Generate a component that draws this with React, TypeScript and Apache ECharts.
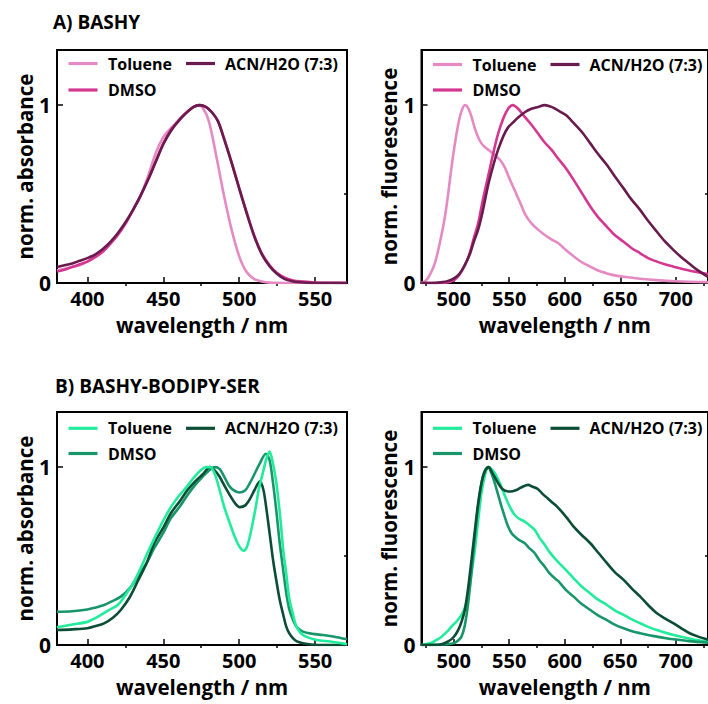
import React, { useEffect, useRef } from "react";
import * as echarts from "echarts";

// ---------- colours ----------
const PINK_TOL = "#E58AC2";
const PINK_DMSO = "#D4378F";
const PINK_ACN = "#6A1B4D";
const GREEN_TOL = "#22EB9C";
const GREEN_DMSO = "#18966A";
const GREEN_ACN = "#0B4D35";

const SOLVENTS = ["Toluene", "DMSO", "ACN/H2O (7:3)"];

// ---------- A) BASHY absorbance ----------
const aAbsTolWl = [380,385,390,395,400,405,410,415,420,425,430,435,440,445,450,455,460,465,470,473,476,480,485,490,495,500,505,510,515,520,530,571];
const aAbsTol = [0.07,0.08,0.09,0.10,0.12,0.145,0.175,0.22,0.27,0.33,0.41,0.49,0.60,0.73,0.82,0.87,0.91,0.955,0.99,1.0,0.985,0.91,0.71,0.49,0.30,0.15,0.06,0.022,0.008,0.002,0,0];
const aAbsWl = [380,385,390,395,400,405,410,415,420,425,430,435,440,445,450,455,460,465,470,474,478,482,486,490,495,500,505,510,515,520,525,530,535,540,550,560,571];
const aAbsAcn = [0.09,0.10,0.11,0.125,0.14,0.16,0.19,0.23,0.28,0.34,0.41,0.49,0.58,0.68,0.78,0.855,0.91,0.955,0.99,1.0,0.99,0.96,0.91,0.81,0.675,0.53,0.39,0.26,0.16,0.095,0.05,0.022,0.01,0.004,0,0,0];
const aAbsDmso = [0.065,0.075,0.09,0.105,0.12,0.145,0.175,0.22,0.27,0.335,0.41,0.49,0.585,0.685,0.785,0.86,0.915,0.958,0.99,1.0,0.99,0.96,0.91,0.815,0.68,0.535,0.395,0.265,0.165,0.1,0.056,0.03,0.016,0.009,0.003,0.001,0];

// ---------- A) BASHY fluorescence ----------
const aFlTolWl = [471,474,478,483,488,492,495,498,501,504,507,510,513,516,519,522,525,528,532,537,542,546,550,555,560,564,570,576,582,588,594,601,608,615,623,630,638,645,653,668,683,700,729];
const aFlTol = [0,0.008,0.04,0.11,0.24,0.37,0.5,0.65,0.78,0.89,0.965,1.0,0.985,0.935,0.87,0.82,0.785,0.765,0.745,0.72,0.69,0.65,0.59,0.52,0.45,0.39,0.335,0.30,0.27,0.245,0.225,0.185,0.15,0.118,0.092,0.07,0.054,0.043,0.035,0.024,0.016,0.01,0.005];
const aFlDmsoWl = [471,490,495,500,505,510,514,518,522,526,531,536,540,545,549,553,558,564,570,576,582,588,594,601,608,616,623,630,638,645,653,660,668,675,683,690,698,712,729];
const aFlDmso = [0,0,0.004,0.015,0.045,0.1,0.16,0.25,0.335,0.46,0.60,0.74,0.84,0.93,0.98,1.0,0.98,0.934,0.89,0.84,0.79,0.75,0.70,0.645,0.58,0.50,0.43,0.37,0.316,0.27,0.232,0.197,0.167,0.14,0.12,0.105,0.092,0.07,0.05];
const aFlAcnWl = [471,480,490,495,500,505,510,515,518,522,526,531,536,540,545,549,553,558,564,570,576,582,588,594,601,608,616,623,630,638,645,653,660,668,675,683,690,698,705,712,719,729];
const aFlAcn = [0,0,0.005,0.012,0.025,0.05,0.10,0.17,0.23,0.30,0.40,0.55,0.67,0.75,0.83,0.875,0.90,0.93,0.96,0.98,0.99,1.0,0.99,0.97,0.944,0.90,0.845,0.785,0.725,0.663,0.60,0.532,0.47,0.41,0.35,0.288,0.235,0.185,0.145,0.11,0.075,0.035];

// ---------- B) BASHY-BODIPY-SER absorbance ----------
const bAbsTolWl = [380,390,400,405,410,415,420,425,430,435,440,445,450,455,460,465,470,475,478,481,484,487,490,494,497,500,503,505,507,509,511,513,515.5,518,520,522,524.5,527,529,531,533,535.5,537.7,542,551,560,571];
const bAbsTol = [0.10,0.115,0.13,0.15,0.175,0.20,0.225,0.28,0.345,0.43,0.525,0.615,0.70,0.775,0.835,0.885,0.94,0.985,1.0,1.0,0.96,0.875,0.78,0.68,0.61,0.555,0.53,0.55,0.61,0.69,0.78,0.88,0.965,1.05,1.088,1.03,0.91,0.72,0.535,0.40,0.26,0.17,0.103,0.056,0.028,0.02,0.005];
const bAbsDmsoWl = [380,390,400,405,411,416,422,428,433,439,444,450,455,461,466,471,476,480,484,487,489.5,493,496,500,504,507,510,513.5,517.5,520,522.3,524.5,526.7,529,531,533,535.5,538,542,548,555,562,568,571];
const bAbsDmso = [0.187,0.19,0.20,0.21,0.225,0.245,0.272,0.32,0.384,0.46,0.544,0.63,0.713,0.78,0.844,0.90,0.947,0.98,1.0,0.99,0.957,0.90,0.872,0.857,0.87,0.91,0.96,1.02,1.075,1.04,0.91,0.75,0.572,0.42,0.29,0.2,0.14,0.10,0.075,0.063,0.056,0.048,0.037,0.033];
const bAbsAcnWl = [380,390,400,405,411,417,422,428,433,439,444,450,455,461,466,471,476,480.7,484,487,490,494,497,500.4,504,507,510,513.6,516,518,520,522.3,524.5,526.7,529,531,533,535.5,538,542,547,550,571];
const bAbsAcn = [0.084,0.088,0.094,0.105,0.122,0.155,0.197,0.27,0.356,0.46,0.572,0.66,0.741,0.81,0.872,0.92,0.96,1.0,0.98,0.947,0.90,0.84,0.80,0.775,0.785,0.82,0.87,0.92,0.87,0.76,0.63,0.478,0.36,0.253,0.17,0.103,0.065,0.037,0.02,0.01,0.003,0,0];

// ---------- B) BASHY-BODIPY-SER fluorescence ----------
const bFlTolWl = [471,480,485,489,494,498,503,507,510,513,516,519,522,525,528,531,534,537,540,543,546,549,552,555,559,564,568,573,577,582,586,592,601,608,615,623,630,638,645,653,660,668,675,683,690,698,705,712,719,729];
const bFlTol = [0,0.013,0.03,0.047,0.075,0.103,0.135,0.169,0.21,0.272,0.40,0.535,0.70,0.854,0.95,1.0,0.99,0.966,0.93,0.89,0.84,0.797,0.76,0.731,0.71,0.694,0.675,0.647,0.605,0.563,0.525,0.48,0.422,0.375,0.33,0.29,0.255,0.225,0.195,0.169,0.145,0.122,0.102,0.084,0.07,0.056,0.046,0.037,0.028,0.018];
const bFlDmsoWl = [471,495,500,504,507,510,513,516,519,522,525,528,531,534,537,540,543,546,549,552,555,559,564,568,573,577,582,586,591,594,601,608,615,623,630,638,645,653,660,668,675,683,690,698,712,729];
const bFlDmso = [0,0.005,0.01,0.025,0.047,0.11,0.234,0.41,0.61,0.78,0.91,0.98,1.0,0.965,0.91,0.845,0.78,0.72,0.666,0.63,0.61,0.59,0.572,0.545,0.516,0.478,0.44,0.405,0.375,0.36,0.31,0.272,0.232,0.197,0.167,0.14,0.115,0.094,0.079,0.066,0.056,0.047,0.039,0.032,0.022,0.013];
const bFlAcnWl = [471,486,495,500,504,507,510,513,516,519,522,525,528,531.5,535,540,544,549,553,558,562,567,571,576,580,584.5,589,593.5,601,608,615,623,630,638,645,653,660,668,675,683,690,698,705,712.5,719,729];
const bFlAcn = [0,0,0.02,0.045,0.084,0.13,0.197,0.32,0.478,0.64,0.797,0.91,0.975,1.0,0.965,0.91,0.875,0.863,0.865,0.876,0.89,0.90,0.89,0.876,0.85,0.825,0.80,0.775,0.722,0.666,0.62,0.572,0.52,0.46,0.41,0.366,0.32,0.272,0.225,0.178,0.15,0.122,0.094,0.066,0.05,0.03];

// ---------- axes ticks ----------
const absMajor = [400, 450, 500, 550];
const absMinor = [425, 475, 525];
const flMajor = [500, 550, 600, 650, 700];
const flMinor = [475, 525, 575, 625, 675, 725];
const yMajor = [0, 1];
const yMinor = [0.5];

const FONT = "'Open Sans', 'DejaVu Sans', sans-serif";

const pairs = (wl: number[], v: number[]) => wl.map((x, i) => [x, v[i]]);

const panels = [
  {
    grid: { left: 57, top: 50, width: 290, height: 233 },
    xMin: 380, xMax: 571, major: absMajor, minor: absMinor,
    yName: "norm. absorbance", legendY: [63.5, 90],
    curves: [
      { name: SOLVENTS[0], color: PINK_TOL, data: pairs(aAbsTolWl, aAbsTol) },
      { name: SOLVENTS[1], color: PINK_DMSO, data: pairs(aAbsWl, aAbsDmso) },
      { name: SOLVENTS[2], color: PINK_ACN, data: pairs(aAbsWl, aAbsAcn) },
    ],
  },
  {
    grid: { left: 421.5, top: 50, width: 289, height: 233 },
    xMin: 471, xMax: 729, major: flMajor, minor: flMinor,
    yName: "norm. fluorescence", legendY: [64.5, 90],
    curves: [
      { name: SOLVENTS[0], color: PINK_TOL, data: pairs(aFlTolWl, aFlTol) },
      { name: SOLVENTS[1], color: PINK_DMSO, data: pairs(aFlDmsoWl, aFlDmso) },
      { name: SOLVENTS[2], color: PINK_ACN, data: pairs(aFlAcnWl, aFlAcn) },
    ],
  },
  {
    grid: { left: 57, top: 412, width: 290, height: 233 },
    xMin: 380, xMax: 571, major: absMajor, minor: absMinor,
    yName: "norm. absorbance", legendY: [428.3, 453.5],
    curves: [
      { name: SOLVENTS[1], color: GREEN_DMSO, data: pairs(bAbsDmsoWl, bAbsDmso) },
      { name: SOLVENTS[2], color: GREEN_ACN, data: pairs(bAbsAcnWl, bAbsAcn) },
      { name: SOLVENTS[0], color: GREEN_TOL, data: pairs(bAbsTolWl, bAbsTol) },
    ],
  },
  {
    grid: { left: 421.5, top: 412, width: 289, height: 233 },
    xMin: 471, xMax: 729, major: flMajor, minor: flMinor,
    yName: "norm. fluorescence", legendY: [428.3, 453.5],
    curves: [
      { name: SOLVENTS[0], color: GREEN_TOL, data: pairs(bFlTolWl, bFlTol) },
      { name: SOLVENTS[1], color: GREEN_DMSO, data: pairs(bFlDmsoWl, bFlDmso) },
      { name: SOLVENTS[2], color: GREEN_ACN, data: pairs(bFlAcnWl, bFlAcn) },
    ],
  },
];

const TITLES = [
  { text: "A) BASHY", x: 53, y: 22 },
  { text: "B) BASHY-BODIPY-SER", x: 55, y: 386 },
];

function buildOption() {
  const tickStyle = { color: "#000", width: 1.5 };
  const labelFont = { fontFamily: FONT, fontWeight: "bold" as const, fontSize: 20, color: "#000" };
  const grid = panels.map((p) => ({
    ...p.grid,
    show: true,
    borderColor: "#000",
    borderWidth: 2,
    backgroundColor: "transparent",
  }));
  const xAxis: any[] = [];
  const yAxis: any[] = [];
  panels.forEach((p, i) => {
    xAxis.push({
      type: "value", gridIndex: i, min: p.xMin, max: p.xMax,
      name: "wavelength / nm", nameLocation: "middle", nameGap: 31,
      nameTextStyle: { ...labelFont, fontSize: 20.5, lineHeight: 22 },
      axisLine: { show: true, lineStyle: { color: "#000", width: 2 } },
      splitLine: { show: false },
      axisTick: { show: true, inside: true, length: 6, customValues: p.major, lineStyle: tickStyle },
      axisLabel: { show: true, customValues: p.major, margin: 4, lineHeight: 22, ...labelFont },
    });
    xAxis.push({
      type: "value", gridIndex: i, min: p.xMin, max: p.xMax,
      axisLine: { show: false }, splitLine: { show: false },
      axisLabel: { show: false },
      axisTick: { show: true, inside: true, length: 3, customValues: p.minor, lineStyle: tickStyle },
    });
    yAxis.push({
      type: "value", gridIndex: i, min: 0, max: 1.31,
      name: p.yName, nameLocation: "middle", nameGap: 20,
      nameTextStyle: { ...labelFont, fontSize: 20.5 },
      axisLine: { show: true, lineStyle: { color: "#000", width: 2 } },
      splitLine: { show: false },
      axisTick: { show: true, inside: true, length: 6, customValues: yMajor, lineStyle: tickStyle },
      axisLabel: { show: true, customValues: yMajor, margin: 6, formatter: (v: number) => String(v), ...labelFont, fontSize: 21 },
    });
    yAxis.push({
      type: "value", gridIndex: i, min: 0, max: 1.31,
      axisLine: { show: false }, splitLine: { show: false },
      axisLabel: { show: false },
      axisTick: { show: true, inside: true, length: 3, customValues: yMinor, lineStyle: tickStyle },
    });
  });

  const series: any[] = [];
  panels.forEach((p, i) => {
    p.curves.forEach((c) => {
      series.push({
        type: "line", name: c.name, xAxisIndex: 2 * i, yAxisIndex: 2 * i,
        data: c.data, symbol: "none", showSymbol: false, smooth: 0.3,
        lineStyle: { color: c.color, width: 2.6 }, itemStyle: { color: c.color },
        clip: true,
      });
    });
  });

  const graphic: any[] = [];
  TITLES.forEach((t) => {
    graphic.push({
      type: "text", x: t.x, y: t.y,
      style: { text: t.text, font: `bold 19px ${FONT}`, fill: "#000", verticalAlign: "middle", align: "left" },
    });
  });
  panels.forEach((p) => {
    const gl = p.grid.left;
    const colorOf = (n: string) => p.curves.find((c) => c.name === n)!.color;
    const items = [
      { name: SOLVENTS[0], dx: 11.5, tx: 51, y: p.legendY[0] },
      { name: SOLVENTS[2], dx: 129, tx: 168, y: p.legendY[0] },
      { name: SOLVENTS[1], dx: 11.5, tx: 51, y: p.legendY[1] },
    ];
    items.forEach((it) => {
      graphic.push({
        type: "line",
        shape: { x1: gl + it.dx, y1: it.y, x2: gl + it.dx + 29, y2: it.y },
        style: { stroke: colorOf(it.name), lineWidth: 3.2 },
      });
      graphic.push({
        type: "text", x: gl + it.tx, y: it.y,
        style: { text: it.name, font: `bold 16px ${FONT}`, fill: "#000", verticalAlign: "middle", align: "left" },
      });
    });
  });

  return { animation: false, backgroundColor: "#fff", grid, xAxis, yAxis, series, graphic };
}

export default function App() {
  const ref = useRef<HTMLDivElement>(null);
  useEffect(() => {
    if (!ref.current) return;
    const chart = echarts.init(ref.current, undefined, { renderer: "svg" });
    chart.setOption(buildOption() as any);
    return () => chart.dispose();
  }, []);
  return (
    <div
      ref={ref}
      style={{ position: "absolute", left: 0, top: 0, width: 708, height: 704, background: "#fff" }}
    />
  );
}
